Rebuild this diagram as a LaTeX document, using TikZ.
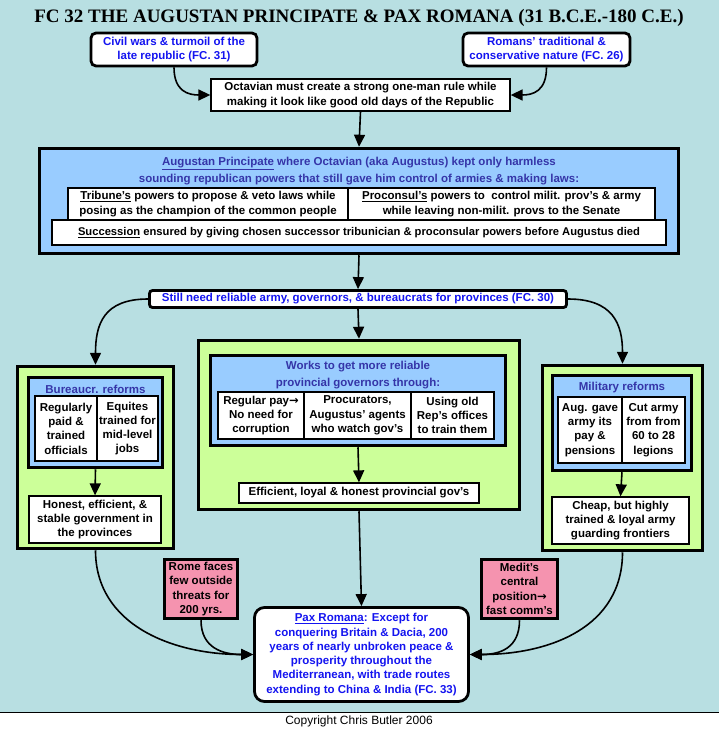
\documentclass[tikz,border=0pt]{standalone}
\usepackage{fontspec}
\setmainfont{Liberation Sans}
\setsansfont{Liberation Sans}
\newfontfamily\titlefont{Liberation Serif}
\newfontfamily\arrowfont{DejaVu Sans}
\usetikzlibrary{arrows.meta,positioning}
\definecolor{bgteal}{HTML}{B8DFE2}
\definecolor{fillblue}{HTML}{99CCFF}
\definecolor{fillgreen}{HTML}{CCFF99}
\definecolor{fillpink}{HTML}{F593AF}
\definecolor{linkblue}{HTML}{1414F0}
\definecolor{headblue}{HTML}{3535A8}
\newcommand{\goesto}{{\arrowfont\bfseries →}}
\tikzset{
	basic/.style = {font=\sffamily\bfseries\fontsize{11.5}{14.3}\selectfont, align=center, inner sep=0pt},
	dims/.style 2 args = {minimum width=#1pt, minimum height=#2pt},
	link box/.style = {basic, draw, line width=2.8pt, rounded corners=5pt, fill=white, text=linkblue},
	plain box/.style = {basic, draw, line width=1.3pt, fill=white},
	cell/.style = {plain box},
	head/.style = {basic, text=headblue, font=\sffamily\bfseries\fontsize{11.5}{16.5}\selectfont},
	frame/.style = {draw, line width=3.5pt},
	green frame/.style = {frame, fill=fillgreen},
	blue frame/.style = {frame, fill=fillblue},
	pink box/.style = {basic, frame, fill=fillpink}
}

\begin{document}
\begin{tikzpicture}[x=1pt,y=-1pt,
	>={Triangle[length=12pt,width=11pt]},
	arr/.style={->,line width=1.6pt}]
	\useasboundingbox (0,0) rectangle (719,729);
	\fill[bgteal] (0,0) rectangle (719,712);
	\draw[line width=0.8pt] (0,712) -- (719,712);
	\node[font=\titlefont\bfseries\fontsize{19}{22}\selectfont] (title) at (359,18)
		{FC 32 THE AUGUSTAN PRINCIPATE \& PAX ROMANA (31 B.C.E.-180 C.E.)};

	\node[link box, dims={166}{33}] (civil) at (174,49.5)
		{Civil wars \& turmoil of the\\late republic (FC. 31)};
	\node[link box, dims={167}{33}] (romans) at (546.5,49.5)
		{Romans' traditional \&\\conservative nature (FC. 26)};
	\node[plain box, dims={299}{32}] (octavian) at (360.5,95)
		{Octavian must create a strong one-man rule while\\making it look like good old days of the Republic};

	\node[blue frame, dims={639}{105}] (augustan) at (359,201) {};
	\node[head] (augustanhead) at (359,171)
		{\underline{Augustan Principate} where Octavian (aka Augustus) kept only harmless\\sounding republican powers that still gave him control of armies \& making laws:};
	\node[cell, dims={280}{32}] (tribune) at (208,204)
		{\underline{Tribune's} powers to propose \& veto laws while\\posing as the champion of the common people};
	\node[cell, dims={307}{32}] (proconsul) at (501.5,204)
		{\underline{Proconsul's} powers to \ control milit. prov's \& army\\while leaving non-milit. provs to the Senate};
	\node[cell, dims={614}{25}, font=\sffamily\bfseries\fontsize{11.2}{14}\selectfont] (succession) at (359,232.5)
		{\underline{Succession} ensured by giving chosen successor tribunician \& proconsular powers before Augustus died};

	\node[link box, rounded corners=3pt, dims={417}{17}] (still) at (358,299)
		{Still need reliable army, governors, \& bureaucrats for provinces (FC. 30)};

	\node[green frame, dims={156}{182}] (leftgreen) at (95.5,457.5) {};
	\node[blue frame, dims={134}{90}] (leftblue) at (95.5,422.5) {};
	\node[head] (lefthead) at (95.5,389) {Bureaucr. reforms};
	\node[cell, dims={62}{65}] (paid) at (66,428.5)
		{Regularly\\paid \&\\trained\\officials};
	\node[cell, dims={61}{65}] (equites) at (127.5,428.5)
		{Equites\\trained for\\mid-level\\jobs};
	\node[plain box, dims={132}{47}] (honest) at (95,519.5)
		{Honest, efficient, \&\\stable government in\\the provinces};

	\node[green frame, dims={321}{169}] (midgreen) at (359,425) {};
	\node[blue frame, dims={295}{90}] (midblue) at (358,400.5) {};
	\node[head] (midhead) at (358,375)
		{Works to get more reliable\\provincial governors through:};
	\node[cell, dims={86}{47}] (pay) at (261,415.5)
		{Regular pay\goesto\\No need for\\corruption};
	\node[cell, dims={107}{47}] (procurators) at (357.5,415.5)
		{Procurators,\\Augustus' agents\\who watch gov's};
	\node[cell, dims={83}{47}] (offices) at (452.5,415.5)
		{Using old\\Rep's offices\\to train them};
	\node[plain box, dims={240}{20}] (efficient) at (359,493)
		{Efficient, loyal \& honest provincial gov's};

	\node[green frame, dims={160}{185}] (rightgreen) at (622.5,458) {};
	\node[blue frame, dims={139}{95}] (rightblue) at (622,423) {};
	\node[head] (righthead) at (622,388) {Military reforms};
	\node[cell, dims={64}{66}] (pensions) at (590,430)
		{Aug. gave\\army its\\pay \&\\pensions};
	\node[cell, dims={63}{66}] (legions) at (653.5,430)
		{Cut army\\from from\\60 to 28\\legions};
	\node[plain box, dims={137}{47}] (cheap) at (620.5,520.5)
		{Cheap, but highly\\trained \& loyal army\\guarding frontiers};

	\node[pink box, dims={73}{59}] (threats) at (201,589)
		{Rome faces\\few outside\\threats for\\200 yrs.};
	\node[pink box, dims={76}{59}] (medit) at (519.5,589)
		{Medit's\\central\\position\goesto\\fast comm's};
	\node[link box, rounded corners=10pt, dims={214}{94}] (pax) at (361.5,654.5)
		{\underline{Pax Romana}: Except for\\conquering Britain \& Dacia, 200\\years of nearly unbroken peace \&\\prosperity throughout the\\Mediterranean, with trade routes\\extending to China \& India (FC. 33)};

	\node[font=\sffamily\fontsize{12}{14}\selectfont] (copyright) at (359,721) {Copyright Chris Butler 2006};

	\draw[arr] (civil.south) .. controls +(0,24) and +(-22,0) .. (octavian.west);
	\draw[arr] (romans.south) .. controls +(0,24) and +(22,0) .. (octavian.east);
	\draw[arr] (octavian.south) -- (augustan.north);
	\draw[arr] (augustan.south) -- (still.north);
	\draw[arr] (still.west) .. controls +(-45,0) and +(0,-40) .. (leftgreen.north);
	\draw[arr] (still.south) -- (midgreen.north);
	\draw[arr] (still.east) .. controls +(45,0) and +(0,-40) .. (rightgreen.north);
	\draw[arr] (leftblue.south) -- (honest.north);
	\draw[arr] (midblue.south) -- (efficient.north);
	\draw[arr] (rightblue.south) -- (cheap.north);
	\draw[arr] (leftgreen.south) .. controls +(0,75) and +(-80,0) .. (pax.west);
	\draw[arr] (threats.south) .. controls +(0,28) and +(-30,0) .. (pax.west);
	\draw[arr] (midgreen.south) -- (pax.north);
	\draw[arr] (rightgreen.south) .. controls +(0,75) and +(80,0) .. (pax.east);
	\draw[arr] (medit.south) .. controls +(0,28) and +(30,0) .. (pax.east);
\end{tikzpicture}
\end{document}
